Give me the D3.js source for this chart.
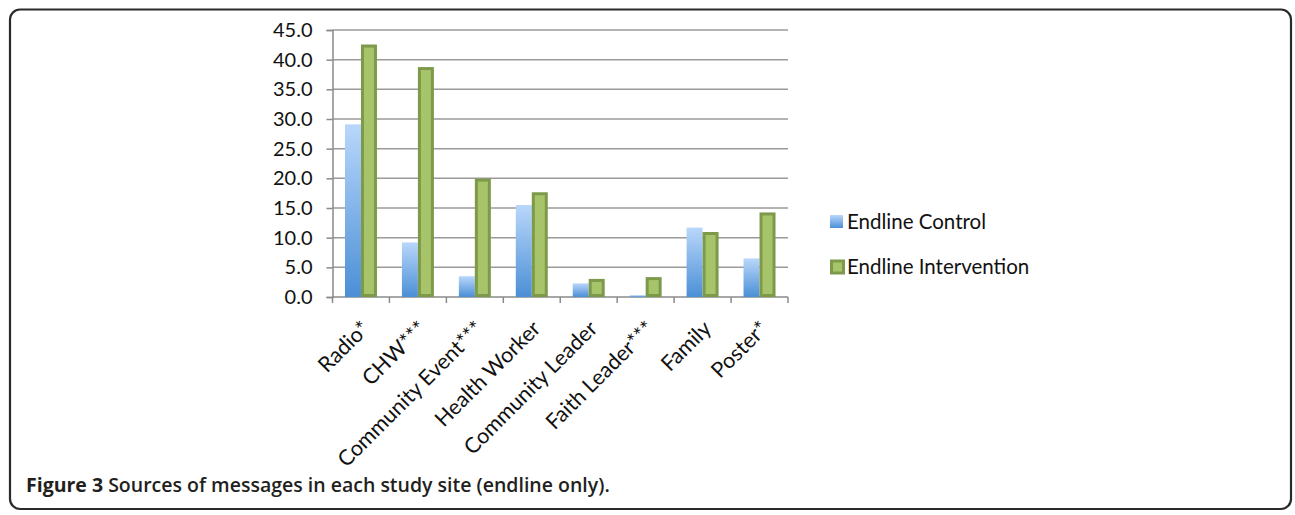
<!DOCTYPE html>
<html>
<head>
<meta charset="utf-8">
<script src="https://cdn.jsdelivr.net/npm/d3@7"></script>
<style>
  html, body { margin: 0; padding: 0; background: #fff; }
  svg { display: block; }
</style>
</head>
<body>
<svg id="chart" width="1295" height="515"></svg>
<script>
// Message sources (percent of respondents), endline survey
const categories = ["Radio*", "CHW***", "Community Event***", "Health Worker",
                    "Community Leader", "Faith Leader***", "Family", "Poster*"];
const controlValues = [29.1, 9.2, 3.5, 15.5, 2.3, 0.3, 11.7, 6.5];
const interventionValues = [42.3, 38.5, 19.7, 17.4, 2.8, 3.1, 10.7, 14.0];
const seriesNames = ["Endline Control", "Endline Intervention"];
const yTicks = [0, 5, 10, 15, 20, 25, 30, 35, 40, 45];

const svg = d3.select("#chart");
const defs = svg.append("defs");

// Vertical gradient for the control bars
const grad = defs.append("linearGradient")
  .attr("id", "blueGrad").attr("x1", 0).attr("y1", 0).attr("x2", 0).attr("y2", 1);
grad.append("stop").attr("offset", "0%").attr("stop-color", "#b9d7fb");
grad.append("stop").attr("offset", "100%").attr("stop-color", "#4b8fd6");

// Outer rounded frame
svg.append("rect")
  .attr("x", 10).attr("y", 9.5).attr("width", 1281).attr("height", 499.5)
  .attr("rx", 10).attr("ry", 10)
  .attr("fill", "none").attr("stroke", "#2a2a2a").attr("stroke-width", 2.2);

const plot = { left: 332.5, right: 788, top: 30, bottom: 297 };
const chartFont = "Lato, 'Open Sans', sans-serif";

const x = d3.scaleBand().domain(categories).range([plot.left, plot.right]).paddingInner(0).paddingOuter(0);
const y = d3.scaleLinear().domain([0, 45]).range([plot.bottom, plot.top]);

const g = svg.append("g");

// Horizontal gridlines
g.selectAll("line.grid").data(yTicks.filter(d => d > 0)).join("line")
  .attr("class", "grid")
  .attr("x1", plot.left).attr("x2", plot.right)
  .attr("y1", d => y(d)).attr("y2", d => y(d))
  .attr("stroke", "#9a9a9a").attr("stroke-width", 1.5);

// Y axis
const yAxis = d3.axisLeft(y).tickValues(yTicks).tickFormat(d3.format(".1f")).tickSize(6).tickPadding(14);
const ya = g.append("g").attr("transform", `translate(${plot.left},0)`).call(yAxis);
ya.select(".domain").attr("stroke", "#8a8a8a").attr("stroke-width", 1.5);
ya.selectAll(".tick line").attr("stroke", "#8a8a8a").attr("stroke-width", 1.5);
ya.selectAll(".tick text")
  .attr("font-family", chartFont).attr("font-size", 20)
  .attr("fill", "#111");

// X axis with ticks between categories
const boundaries = categories.map(c => x(c)).concat([plot.right]);
g.append("line")
  .attr("x1", plot.left).attr("x2", plot.right)
  .attr("y1", plot.bottom).attr("y2", plot.bottom)
  .attr("stroke", "#8a8a8a").attr("stroke-width", 1.5);
g.selectAll("line.xtick").data(boundaries).join("line")
  .attr("class", "xtick")
  .attr("x1", d => d).attr("x2", d => d)
  .attr("y1", plot.bottom).attr("y2", plot.bottom + 6)
  .attr("stroke", "#8a8a8a").attr("stroke-width", 1.5);

// Bars
const inner = d3.scaleBand().domain([0, 1]).range([0, x.bandwidth()]).paddingOuter(0.78).paddingInner(0);
const groups = g.selectAll("g.cat").data(categories).join("g")
  .attr("class", "cat")
  .attr("transform", d => `translate(${x(d)},0)`);

groups.append("rect")
  .attr("x", inner(0))
  .attr("width", inner.bandwidth())
  .attr("y", (d, i) => y(controlValues[i]))
  .attr("height", (d, i) => plot.bottom - y(controlValues[i]))
  .attr("fill", "url(#blueGrad)");

const sw = 3;
groups.append("rect")
  .attr("x", inner(1) + sw / 2)
  .attr("width", inner.bandwidth() - sw)
  .attr("y", (d, i) => y(interventionValues[i]))
  .attr("height", (d, i) => plot.bottom - y(interventionValues[i]) - sw / 2)
  .attr("fill", "#a8c46b")
  .attr("stroke", "#7c9a4a").attr("stroke-width", sw);

// Category labels, rotated
g.selectAll("text.cat").data(categories).join("text")
  .attr("class", "cat")
  .attr("transform", d => `translate(${x(d) + x.bandwidth() / 2 - 1},${plot.bottom + 22}) rotate(-45)`)
  .attr("text-anchor", "end")
  .attr("dy", "0.72em")
  .attr("font-family", chartFont).attr("font-size", 21.5)
  .attr("fill", "#111")
  .text(d => d);

// Legend
const legend = svg.append("g").attr("transform", "translate(830,0)");
const legendY = [222, 267];
legend.append("rect")
  .attr("x", 0).attr("y", legendY[0] - 7).attr("width", 13).attr("height", 13)
  .attr("fill", "url(#blueGrad)");
legend.append("rect")
  .attr("x", 1.5).attr("y", legendY[1] - 6).attr("width", 12).attr("height", 12)
  .attr("fill", "#a8c46b").attr("stroke", "#7c9a4a").attr("stroke-width", 3);
legend.selectAll("text").data(seriesNames).join("text")
  .attr("x", 17).attr("y", (d, i) => legendY[i])
  .attr("dy", "0.35em")
  .attr("font-family", chartFont).attr("font-size", 20.5)
  .attr("fill", "#111")
  .text(d => d);

// Caption
const cap = svg.append("text")
  .attr("x", 26).attr("y", 492)
  .attr("font-family", "'Open Sans', sans-serif").attr("font-size", 19.5)
  .attr("fill", "#231f20");
cap.append("tspan").attr("font-weight", "bold").text("Figure 3");
cap.append("tspan").attr("font-weight", "600").text(" Sources of messages in each study site (endline only).");
</script>
</body>
</html>
